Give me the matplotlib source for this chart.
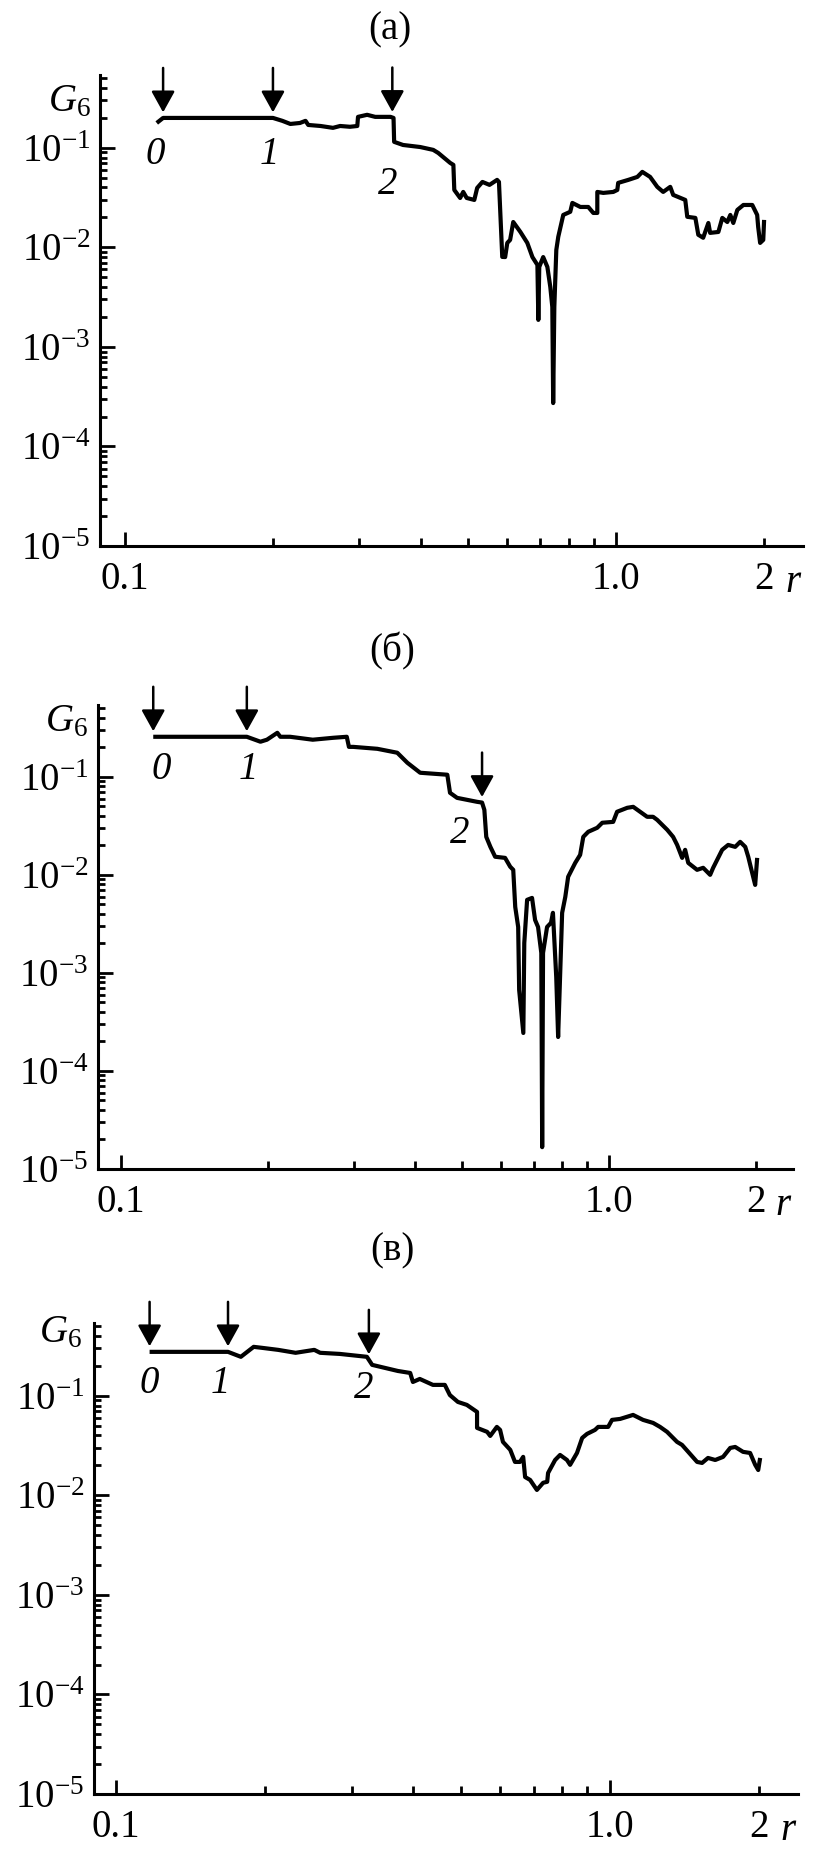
import numpy as np
import matplotlib
matplotlib.use("Agg")
import matplotlib.pyplot as plt
from matplotlib.ticker import FixedLocator, FixedFormatter, FuncFormatter, NullFormatter

plt.rcParams['font.family'] = ['Liberation Serif', 'DejaVu Serif']
plt.rcParams['mathtext.fontset'] = 'custom'
plt.rcParams['mathtext.rm'] = 'Liberation Serif'
plt.rcParams['mathtext.it'] = 'Liberation Serif:italic'
plt.rcParams['font.size'] = 28

# ---------------- data ----------------
r_a = [0.116, 0.1195, 0.200, 0.209, 0.217, 0.227, 0.233, 0.236, 0.250, 0.265, 0.274, 0.287, 0.297, 0.298,
       0.311, 0.323, 0.347, 0.352, 0.353, 0.368, 0.399, 0.424, 0.434, 0.459, 0.466, 0.468, 0.481, 0.488,
       0.496, 0.514, 0.521, 0.534, 0.552, 0.572, 0.577, 0.586, 0.594, 0.600, 0.608, 0.617, 0.638, 0.659,
       0.675, 0.691, 0.694, 0.697, 0.710, 0.724, 0.734, 0.741, 0.744, 0.748, 0.755, 0.762, 0.780, 0.806,
       0.814, 0.845, 0.877, 0.898, 0.915, 0.915, 0.941, 0.986, 1.005, 1.009, 1.058, 1.104, 1.13, 1.172,
       1.212, 1.246, 1.288, 1.306, 1.382, 1.395, 1.449, 1.469, 1.503, 1.54, 1.553, 1.614, 1.644, 1.683,
       1.707, 1.731, 1.764, 1.815, 1.892, 1.936, 1.945, 1.963, 1.992, 2.0]
g_a = [0.178, 0.200, 0.200, 0.187, 0.174, 0.178, 0.187, 0.170, 0.166, 0.159, 0.166, 0.163, 0.166, 0.205,
       0.215, 0.205, 0.205, 0.200, 0.115, 0.107, 0.102, 0.0955, 0.089, 0.0707, 0.0675, 0.0378, 0.0314, 0.0361,
       0.0314, 0.030, 0.0396, 0.0455, 0.0425, 0.0477, 0.0455, 0.00803, 0.0080, 0.0111, 0.0119, 0.0180, 0.0143,
       0.0111, 0.0080, 0.00667, 0.00187, 0.00637, 0.0080, 0.00637, 0.00401, 0.00252, 0.000273, 0.00252,
       0.00944, 0.0128, 0.0212, 0.0228, 0.028, 0.0255, 0.0255, 0.0222, 0.0222, 0.0361, 0.0353, 0.0361,
       0.0378, 0.0445, 0.0477, 0.0511, 0.0574, 0.0511, 0.0406, 0.0361, 0.0406, 0.0337, 0.030, 0.0203,
       0.0198, 0.0134, 0.0125, 0.0176, 0.0140, 0.0143, 0.0198, 0.0180, 0.0212, 0.0176, 0.0238, 0.0267,
       0.0267, 0.0212, 0.0161, 0.0111, 0.0119, 0.0189]

r_b = [0.1164, 0.181, 0.193, 0.199, 0.209, 0.212, 0.222, 0.247, 0.272, 0.290, 0.293, 0.299, 0.335, 0.368,
       0.386, 0.410, 0.466, 0.472, 0.488, 0.536, 0.549, 0.555, 0.560, 0.571, 0.584, 0.612, 0.627, 0.636,
       0.642, 0.651, 0.654, 0.667, 0.670, 0.679, 0.695, 0.705, 0.715, 0.726, 0.729, 0.732, 0.746, 0.760,
       0.767, 0.779, 0.786, 0.801, 0.813, 0.824, 0.852, 0.872, 0.885, 0.906, 0.945, 0.968, 1.019, 1.038,
       1.089, 1.12, 1.157, 1.196, 1.23, 1.254, 1.315, 1.352, 1.378, 1.411, 1.431, 1.452, 1.514, 1.558,
       1.61, 1.633, 1.704, 1.753, 1.812, 1.855, 1.90, 1.927, 1.963, 1.991, 2.01]
g_b = [0.256, 0.256, 0.228, 0.239, 0.281, 0.256, 0.256, 0.239, 0.250, 0.256, 0.202, 0.202, 0.193, 0.176,
       0.139, 0.110, 0.105, 0.0687, 0.061, 0.0556, 0.0546, 0.046, 0.0244, 0.0193, 0.0153, 0.0149, 0.0121,
       0.01125, 0.00471, 0.00294, 0.00067, 0.000244, 0.00202, 0.00556, 0.00582, 0.00347, 0.00294, 0.0016,
       1.67e-5, 0.0016, 0.00294, 0.00324, 0.0041, 0.00091, 0.000222, 0.0041, 0.00596, 0.00955, 0.01325,
       0.016, 0.0244, 0.0275, 0.0302, 0.034, 0.0347, 0.044, 0.0483, 0.0494, 0.044, 0.0391, 0.0391, 0.0364,
       0.0288, 0.0244, 0.0202, 0.0149, 0.018, 0.01325, 0.01125, 0.0118, 0.010, 0.0118, 0.018, 0.0202,
       0.0193, 0.0217, 0.0193, 0.0153, 0.0105, 0.0079, 0.0149]

r_c = [0.117, 0.1686, 0.179, 0.190, 0.1975, 0.213, 0.231, 0.252, 0.259, 0.284, 0.322, 0.330, 0.372, 0.394,
       0.399, 0.412, 0.438, 0.463, 0.474, 0.492, 0.513, 0.538, 0.538, 0.564, 0.572, 0.590, 0.599, 0.607,
       0.628, 0.642, 0.657, 0.667, 0.673, 0.689, 0.711, 0.732, 0.746, 0.749, 0.774, 0.792, 0.818, 0.830,
       0.857, 0.878, 0.898, 0.932, 0.946, 0.991, 1.009, 1.048, 1.113, 1.166, 1.222, 1.262, 1.304, 1.366,
       1.398, 1.439, 1.50, 1.535, 1.578, 1.632, 1.693, 1.750, 1.791, 1.858, 1.92, 1.966, 1.994, 2.012]
g_c = [0.277, 0.277, 0.247, 0.311, 0.304, 0.290, 0.271, 0.290, 0.271, 0.264, 0.247, 0.205, 0.178, 0.170,
       0.138, 0.148, 0.129, 0.129, 0.102, 0.087, 0.0812, 0.069, 0.0477, 0.0435, 0.0396, 0.0488, 0.0455,
       0.0345, 0.0287, 0.0217, 0.0217, 0.0244, 0.0153, 0.0143, 0.01135, 0.0134, 0.0137, 0.0168, 0.0227,
       0.0255, 0.0227, 0.0203, 0.0267, 0.0378, 0.0415, 0.0455, 0.0488, 0.0488, 0.0574, 0.0587, 0.0644,
       0.0574, 0.0535, 0.0488, 0.0435, 0.0345, 0.0322, 0.0274, 0.0217, 0.0212, 0.0238, 0.0227, 0.0244,
       0.030, 0.0307, 0.0274, 0.0267, 0.0203, 0.018, 0.0238]

# marked points (arrows) 0, 1, 2
arrow_r_a = [0.1195, 0.200, 0.350]
arrow_r_b = [0.1164, 0.181, 0.549]
arrow_r_c = [0.117, 0.1686, 0.325]
mark_labels = ['0', '1', '2']

panel_titles = ['(a)', '(б)', '(в)']
ytick_vals = [1e-5, 1e-4, 1e-3, 1e-2, 1e-1]
ytick_labels = ['$10^{-5}$', '$10^{-4}$', '$10^{-3}$', '$10^{-2}$', '$10^{-1}$']
xtick_major = [0.1, 1.0]
xtick_major_labels = ['0.1', '1.0']
xtick_minor = [0.2, 0.3, 0.4, 0.5, 0.6, 0.7, 0.8, 0.9, 2.0]

# ---------------- layout ----------------
W, H = 823, 1863
fig = plt.figure(figsize=(W / 100, H / 100), dpi=100)

panels = [
    dict(r=r_a, g=g_a, arrows=arrow_r_a, rect=[100, 75, 803, 546], xlim=(0.0889, 2.40),
         title_xy=(390, 30),
         label_pos=[(0.115, 0.085), (0.197, 0.085), (0.343, 0.0425)], glab=(-0.044, 0.943)),
    dict(r=r_b, g=g_b, arrows=arrow_r_b, rect=[98, 705, 793, 1169], xlim=(0.0897, 2.38),
         title_xy=(392, 651),
         label_pos=[(0.121, 0.118), (0.182, 0.118), (0.495, 0.0262)], glab=(-0.046, 0.963)),
    dict(r=r_c, g=g_c, arrows=arrow_r_c, rect=[94, 1323, 798, 1794], xlim=(0.0903, 2.40),
         title_xy=(392, 1251),
         label_pos=[(0.117, 0.132), (0.1624, 0.132), (0.318, 0.120)], glab=(-0.047, 0.979)),
]

for p, title in zip(panels, panel_titles):
    x0, y0, x1, y1 = p['rect']
    ax = fig.add_axes([x0 / W, 1 - y1 / H, (x1 - x0) / W, (y1 - y0) / H])
    ax.set_xscale('log')
    ax.set_yscale('log')
    ax.plot(p['r'], p['g'], color='black', lw=3.0, solid_joinstyle='round', solid_capstyle='butt')
    ax.set_xlim(*p['xlim'])
    ax.set_ylim(1e-5, 0.54)

    for s in ['top', 'right']:
        ax.spines[s].set_visible(False)
    for s in ['left', 'bottom']:
        ax.spines[s].set_linewidth(2.2)

    ax.yaxis.set_major_locator(FixedLocator(ytick_vals))
    ax.yaxis.set_major_formatter(FixedFormatter(ytick_labels))
    yminor = [m * 10.0 ** e for e in range(-5, 0) for m in range(2, 10)]
    ax.yaxis.set_minor_locator(FixedLocator(yminor))
    ax.yaxis.set_minor_formatter(NullFormatter())

    ax.xaxis.set_major_locator(FixedLocator(xtick_major))
    ax.xaxis.set_major_formatter(FixedFormatter(xtick_major_labels))
    ax.xaxis.set_minor_locator(FixedLocator(xtick_minor))
    ax.xaxis.set_minor_formatter(FuncFormatter(lambda v, pos: '2' if abs(v - 2.0) < 1e-6 else ''))

    ax.tick_params(axis='both', which='both', direction='in', width=2.0, labelsize=28)
    ax.tick_params(axis='y', which='major', length=11, pad=7)
    ax.tick_params(axis='y', which='minor', length=5)
    ax.tick_params(axis='x', which='major', length=10, pad=11)
    ax.tick_params(axis='x', which='minor', length=5.5, pad=11)

    # arrows marking points 0, 1, 2
    lr = np.log10(p['r'])
    lg = np.log10(p['g'])
    for ar in p['arrows']:
        gy = 10 ** np.interp(np.log10(ar), lr, lg)
        ax.annotate('', xy=(ar, gy), xytext=(0, 36), textcoords='offset points',
                    arrowprops=dict(arrowstyle='-|>,head_length=0.65,head_width=0.36',
                                    mutation_scale=20, color='black', lw=1.8,
                                    shrinkA=0, shrinkB=4), annotation_clip=False)
    for (lx, ly), t in zip(p['label_pos'], mark_labels):
        ax.text(lx, ly, t, fontstyle='italic', fontsize=28, ha='center', va='center')

    # axis labels
    gx, gyy = p['glab']
    ax.text(gx, gyy, '$G_6$', transform=ax.transAxes, ha='center', va='center', fontsize=28)
    ax.annotate('r', xy=(0.986, 0), xycoords='axes fraction', xytext=(0, -33),
                textcoords='offset points', ha='center', va='baseline',
                fontstyle='italic', fontsize=28)

    tx, ty = p['title_xy']
    fig.text(tx / W, 1 - ty / H, title, ha='center', va='center', fontsize=28)

fig.savefig('out.png', dpi=100)
